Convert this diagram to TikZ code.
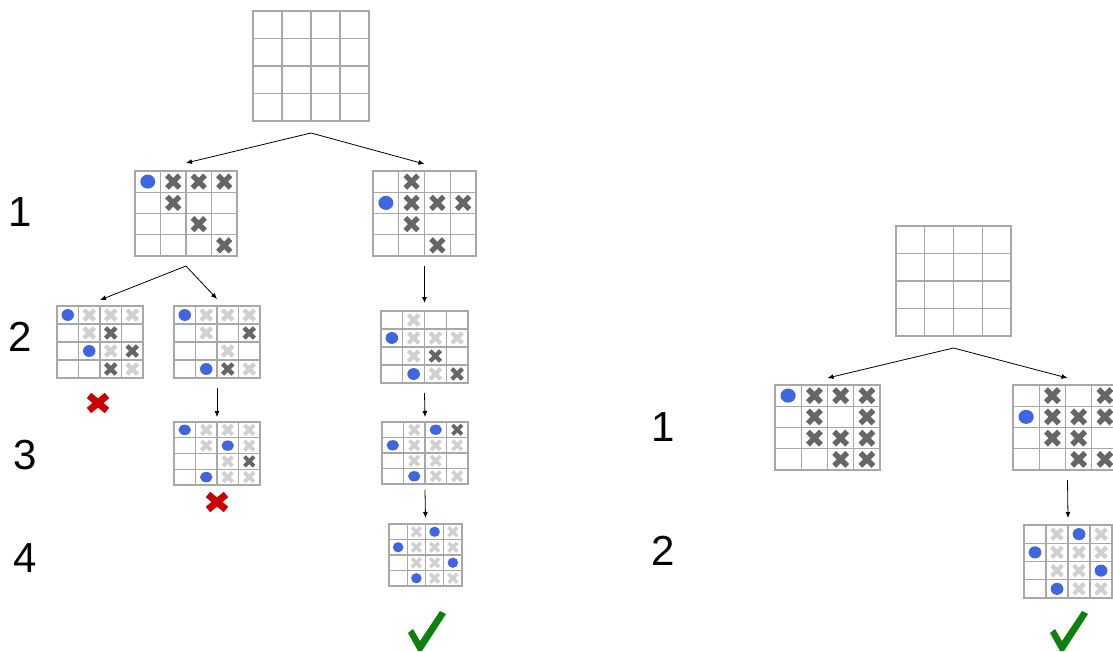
\documentclass[tikz,border=0pt]{standalone}
\usepackage{fontspec}
\setmainfont{Liberation Sans}
\usetikzlibrary{arrows.meta, calc}
\definecolor{dotblue}{HTML}{3F66E0}
\definecolor{xdark}{HTML}{666666}
\definecolor{xlight}{HTML}{D0D0D0}
\definecolor{gridgray}{HTML}{A8A8A8}
\definecolor{failred}{HTML}{CC0000}
\definecolor{okgreen}{HTML}{0E800E}

% one 4x4 board: name, left, top, cell w, cell h, mark size, contents
\newcommand{\mksz}{8pt}
\newcommand{\board}[7]{%
  \begin{scope}[shift={(#2,#3)}, x=#4pt, y=-#5pt]
    \renewcommand{\mksz}{#6pt}
    \node[boardbox, minimum width={4*#4pt}, minimum height={4*#5pt}] (#1) at (0,0) {};
    \foreach \i in {0,...,4} {
      \draw[gridline] (\i,0) -- (\i,4);
      \draw[gridline] (0,\i) -- (4,\i);
    }
    #7
  \end{scope}}
\newcommand{\bdot}[2]{\fill[dotblue] (#1-.5,#2-.5) ellipse [x radius=.29, y radius=.33];}
\newcommand{\crossmark}[3]{\draw[#1] ($(#2-.5,#3-.5)+(-\mksz,-\mksz)$) -- ($(#2-.5,#3-.5)+(\mksz,\mksz)$)
  ($(#2-.5,#3-.5)+(-\mksz,\mksz)$) -- ($(#2-.5,#3-.5)+(\mksz,-\mksz)$);}
\newcommand{\xdk}[2]{\crossmark{darkx}{#1}{#2}}
\newcommand{\xlt}[2]{\crossmark{lightx}{#1}{#2}}

\tikzset{
  boardbox/.style={shape=rectangle, anchor=north west, inner sep=0pt, outer sep=0pt},
  gridline/.style={draw=gridgray, line width=1.1pt, line cap=rect},
  darkx/.style={draw=xdark, line width={0.82*\mksz}},
  lightx/.style={draw=xlight, line width={0.82*\mksz}},
  arr/.style={-{Latex[length=6pt,width=5pt]}, line width=0.8pt},
  num/.style={font=\fontsize{42}{48}\selectfont, inner sep=0pt},
  failx/.pic={\draw[failred, line width=7pt] (-9,-7.5) -- (9,7.5) (-9,7.5) -- (9,-7.5);},
  okcheck/.pic={\fill[okgreen] (-18,1) -- (-13,-3) -- (-6,9) -- (14,-21) -- (20,-18) -- (-4,19) -- (-8,19) -- cycle;}
}

\begin{document}
\begin{tikzpicture}[x=1pt, y=-1pt]
\useasboundingbox (0,0) rectangle (1113,652);
\clip (0,0) rectangle (1113,652);
\fill[white] (0,0) rectangle (1113,652);

% left tree
\board{T}{253}{11}{29}{27.5}{8}{}
\board{A1}{135}{171}{25.5}{21.25}{6.3}{
  \bdot{1}{1}\xdk{2}{1}\xdk{3}{1}\xdk{4}{1}
  \xdk{2}{2}
  \xdk{3}{3}
  \xdk{4}{4}}
\board{B1}{373}{171}{25.75}{21.25}{6.3}{
  \xdk{2}{1}
  \bdot{1}{2}\xdk{2}{2}\xdk{3}{2}\xdk{4}{2}
  \xdk{2}{3}
  \xdk{3}{4}}
\board{A2}{57}{306}{21.5}{18}{5.2}{
  \bdot{1}{1}\xlt{2}{1}\xlt{3}{1}\xlt{4}{1}
  \xlt{2}{2}\xdk{3}{2}
  \bdot{2}{3}\xlt{3}{3}\xdk{4}{3}
  \xdk{3}{4}\xlt{4}{4}}
\board{B2}{174}{306}{21.5}{18}{5.2}{
  \bdot{1}{1}\xlt{2}{1}\xlt{3}{1}\xlt{4}{1}
  \xlt{2}{2}\xdk{4}{2}
  \xlt{3}{3}
  \bdot{2}{4}\xdk{3}{4}\xlt{4}{4}}
\board{C2}{381}{311}{21.75}{18}{5.2}{
  \xlt{2}{1}
  \bdot{1}{2}\xlt{2}{2}\xlt{3}{2}\xlt{4}{2}
  \xlt{2}{3}\xdk{3}{3}
  \bdot{2}{4}\xlt{3}{4}\xdk{4}{4}}
\board{B3}{174}{422}{21.5}{15.75}{4.7}{
  \bdot{1}{1}\xlt{2}{1}\xlt{3}{1}\xlt{4}{1}
  \xlt{2}{2}\bdot{3}{2}\xlt{4}{2}
  \xlt{3}{3}\xdk{4}{3}
  \bdot{2}{4}\xlt{3}{4}\xlt{4}{4}}
\board{C3}{382}{422}{21.5}{15.5}{4.7}{
  \xlt{2}{1}\bdot{3}{1}\xdk{4}{1}
  \bdot{1}{2}\xlt{2}{2}\xlt{3}{2}\xlt{4}{2}
  \xlt{2}{3}\xlt{3}{3}
  \bdot{2}{4}\xlt{3}{4}\xlt{4}{4}}
\board{C4}{389}{524}{18.25}{15.5}{4.4}{
  \xlt{2}{1}\bdot{3}{1}\xlt{4}{1}
  \bdot{1}{2}\xlt{2}{2}\xlt{3}{2}\xlt{4}{2}
  \xlt{2}{3}\xlt{3}{3}\bdot{4}{3}
  \bdot{2}{4}\xlt{3}{4}\xlt{4}{4}}

\coordinate (Tb) at ([yshift=-12pt]T.south);
\draw[arr] (Tb) -- ([yshift=8pt]A1.north);
\draw[arr] (Tb) -- ([yshift=7pt]B1.north);
\coordinate (A1b) at ([yshift=-10pt]A1.south);
\draw[arr] (A1b) -- ([yshift=6pt]A2.north);
\draw[arr] (A1b) -- ([yshift=7pt]B2.north);
\draw[arr] ([yshift=-10pt]B1.south) -- ([yshift=8pt]C2.north);
\draw[arr] ([yshift=-10pt]B2.south) -- ([yshift=5pt]B3.north);
\draw[arr] ([yshift=-10pt]C2.south) -- ([yshift=5pt]C3.north);
\draw[arr] ([yshift=-6pt]C3.south) -- ([yshift=6pt]C4.north);

\pic at (98,403) {failx};
\pic at (217,502) {failx};
\pic at (426,632) {okcheck};

\node[num] (L1) at (20,212) {1};
\node[num] (L2) at (20,337) {2};
\node[num] (L3) at (25,455) {3};
\node[num] (L4) at (25,558) {4};

% right tree
\board{RT}{896}{226}{28.75}{27.5}{8}{}
\board{R1L}{775}{385}{26.25}{21.25}{6.5}{
  \bdot{1}{1}\xdk{2}{1}\xdk{3}{1}\xdk{4}{1}
  \xdk{2}{2}\xdk{4}{2}
  \xdk{2}{3}\xdk{3}{3}\xdk{4}{3}
  \xdk{3}{4}\xdk{4}{4}}
\board{R1R}{1013}{385}{26.25}{21.25}{6.5}{
  \xdk{2}{1}\xdk{4}{1}
  \bdot{1}{2}\xdk{2}{2}\xdk{3}{2}\xdk{4}{2}
  \xdk{2}{3}\xdk{3}{3}
  \xdk{3}{4}\xdk{4}{4}}
\board{R2}{1024}{525}{22}{18.25}{5.2}{
  \xlt{2}{1}\bdot{3}{1}\xlt{4}{1}
  \bdot{1}{2}\xlt{2}{2}\xlt{3}{2}\xlt{4}{2}
  \xlt{2}{3}\xlt{3}{3}\bdot{4}{3}
  \bdot{2}{4}\xlt{3}{4}\xlt{4}{4}}

\coordinate (RTb) at ([yshift=-12pt]RT.south);
\draw[arr] (RTb) -- ([yshift=7pt]R1L.north);
\draw[arr] (RTb) -- ([yshift=7pt,xshift=2pt]R1R.north);
\draw[arr] ([yshift=-10pt,xshift=2pt]R1R.south) -- ([yshift=7pt]R2.north);

\pic at (1068,632) {okcheck};

\node[num] (R1) at (663,427) {1};
\node[num] (R2l) at (663,551) {2};
\end{tikzpicture}
\end{document}
